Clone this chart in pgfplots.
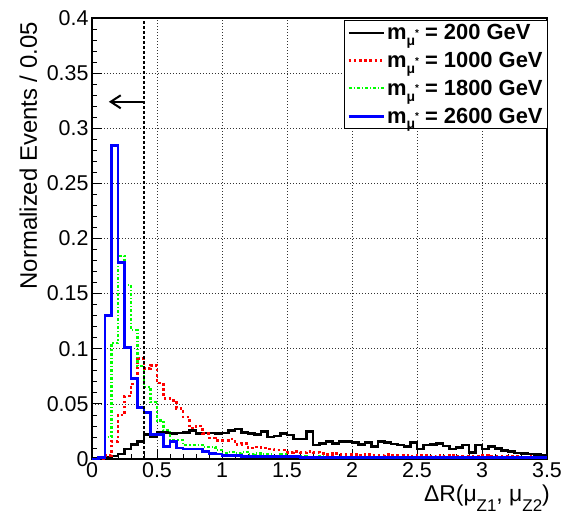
\documentclass[border=0pt]{standalone}
\usepackage{fontspec}
\setmainfont{Liberation Sans}
\usepackage{pgfplots}
\pgfplotsset{compat=1.18}
\usetikzlibrary{arrows.meta}
\newcommand{\mstar}{m\raisebox{-0.5ex}{\fontsize{14}{14}\selectfont μ}\raisebox{0.3ex}{\fontsize{10}{10}\selectfont *}}
\begin{document}
\begin{tikzpicture}
\begin{axis}[
  scale only axis, width=455bp, height=441bp,
  xmin=0, xmax=3.5, ymin=0, ymax=0.4,
  xtick={0,0.5,1,1.5,2,2.5,3,3.5},
  ytick={0,0.05,0.1,0.15,0.2,0.25,0.3,0.35,0.4},
  minor tick num=4,
  tick align=inside, xtick pos=left, ytick pos=left,
  major tick length=10bp, minor tick length=5bp,
  grid=major,
  major grid style={black!80, line width=0.7bp, dash pattern=on 1bp off 2bp},
  axis line style={line width=1.2bp},
  every tick/.style={black, line width=0.8bp},
  tick label style={font=\fontsize{21.5}{25}\selectfont},
  /pgf/number format/assume math mode=true,
  /pgf/number format/fixed,
  scaled ticks=false,
  every axis y label/.style={at={([xshift=-55bp,yshift=-4bp]rel axis cs:0,1)}, rotate=90, anchor=base east, inner sep=0pt, font=\fontsize{24}{28}\selectfont},
  every axis x label/.style={at={([xshift=3bp,yshift=-42bp]rel axis cs:1,0)}, anchor=base east, inner sep=0pt, font=\fontsize{23}{26}\selectfont},
  ylabel={Normalized Events / 0.05},
  xlabel={ΔR(μ\raisebox{-10bp}{\fontsize{17}{17}\selectfont Z1}, μ\raisebox{-10bp}{\fontsize{17}{17}\selectfont Z2})},
  legend style={at={(rel axis cs:1,1)}, anchor=north east, xshift=1bp, yshift=-2bp,
    draw=black, line width=0.8bp, fill=white,
    font=\bfseries\fontsize{22}{25}\selectfont, inner xsep=3bp, inner ysep=2bp, row sep=7bp,
    cells={anchor=west}},
  legend image code/.code={\draw[#1] (0bp,0bp) -- (35bp,0bp);},
  const plot mark left,
]
\addplot[black, line width=2.4bp] coordinates {
(0.00,0.0005)(0.05,0.0015)(0.10,0.002)(0.15,0.0025)(0.20,0.0045)(0.25,0.0088)(0.30,0.013)(0.35,0.0157)
(0.40,0.0224)(0.45,0.0205)(0.50,0.0245)(0.55,0.0242)(0.60,0.023)(0.65,0.0235)(0.70,0.024)(0.75,0.0257)
(0.80,0.023)(0.85,0.0238)(0.90,0.0238)(0.95,0.023)(1.00,0.0235)(1.05,0.0257)(1.10,0.027)(1.15,0.024)
(1.20,0.023)(1.25,0.0224)(1.30,0.0248)(1.35,0.0197)(1.40,0.021)(1.45,0.023)(1.50,0.022)(1.55,0.018)
(1.60,0.018)(1.65,0.0248)(1.70,0.0127)(1.75,0.0142)(1.80,0.016)(1.85,0.0142)(1.90,0.016)(1.95,0.0157)
(2.00,0.0148)(2.05,0.0133)(2.10,0.0148)(2.15,0.0112)(2.20,0.016)(2.25,0.0148)(2.30,0.0136)(2.35,0.0127)
(2.40,0.0112)(2.45,0.0148)(2.50,0.0091)(2.55,0.0127)(2.60,0.0133)(2.65,0.0139)(2.70,0.012)(2.75,0.009)
(2.80,0.0103)(2.85,0.0127)(2.90,0.006)(2.95,0.0127)(3.00,0.009)(3.05,0.0112)(3.10,0.0097)(3.15,0.0076)
(3.20,0.0067)(3.25,0.0057)(3.30,0.0051)(3.35,0.0045)(3.40,0.0042)(3.45,0.0030)(3.50,0.0030)};
\addlegendentry{\mstar\ = 200 GeV}
\addplot[red, line width=2.6bp, dash pattern=on 2.6bp off 2.6bp] coordinates {
(0.00,0)(0.05,0)(0.10,0.003)(0.15,0.016)(0.20,0.040)(0.25,0.057)(0.30,0.068)(0.35,0.091)
(0.40,0.082)(0.45,0.085)(0.50,0.069)(0.55,0.055)(0.60,0.053)(0.65,0.046)(0.70,0.038)(0.75,0.028)
(0.80,0.030)(0.85,0.023)(0.90,0.019)(0.95,0.017)(1.00,0.017)(1.05,0.018)(1.10,0.013)(1.15,0.014)
(1.20,0.010)(1.25,0.011)(1.30,0.010)(1.35,0.009)(1.40,0.008)(1.45,0.008)(1.50,0.006)(1.55,0.007)
(1.60,0.006)(1.65,0.007)(1.70,0.006)(1.75,0.005)(1.80,0.004)(1.85,0.005)(1.90,0.004)(1.95,0.004)
(2.00,0.004)(2.05,0.003)(2.10,0.004)(2.15,0.003)(2.20,0.003)(2.25,0.004)(2.30,0.003)(2.35,0.003)
(2.40,0.003)(2.45,0.002)(2.50,0.003)(2.55,0.003)(2.60,0.002)(2.65,0.003)(2.70,0.002)(2.75,0.003)
(2.80,0.002)(2.85,0.002)(2.90,0.002)(2.95,0.002)(3.00,0.003)(3.05,0.002)(3.10,0.002)(3.15,0.002)
(3.20,0.002)(3.25,0.002)(3.30,0.001)(3.35,0.002)(3.40,0.001)(3.45,0.001)(3.50,0.001)};
\addlegendentry{\mstar\ = 1000 GeV}
\addplot[green, line width=2.2bp, dash pattern=on 3bp off 2bp on 1.2bp off 2bp] coordinates {
(0.00,0)(0.05,0.002)(0.10,0.020)(0.15,0.105)(0.20,0.184)(0.25,0.158)(0.30,0.117)(0.35,0.084)
(0.40,0.065)(0.45,0.052)(0.50,0.035)(0.55,0.026)(0.60,0.017)(0.65,0.017)(0.70,0.013)(0.75,0.013)
(0.80,0.013)(0.85,0.011)(0.90,0.011)(0.95,0.008)(1.00,0.005)(1.05,0.006)(1.10,0.005)(1.15,0.006)
(1.20,0.004)(1.25,0.005)(1.30,0.004)(1.35,0.004)(1.40,0.003)(1.45,0.004)(1.50,0.003)(1.55,0.003)
(1.60,0.003)(1.65,0.002)(1.70,0.002)(1.75,0.003)(1.80,0.002)(1.85,0.002)(1.90,0.002)(1.95,0.001)
(2.00,0.002)(2.05,0.001)(2.10,0.002)(2.15,0.001)(2.20,0.001)(2.25,0.002)(2.30,0.001)(2.35,0.001)
(2.40,0.001)(2.45,0.001)(2.50,0.001)(2.55,0.001)(2.60,0.001)(2.65,0.001)(2.70,0.001)(2.75,0.001)
(2.80,0.001)(2.85,0.001)(2.90,0.001)(2.95,0.001)(3.00,0.001)(3.05,0.001)(3.10,0.001)(3.15,0.001)
(3.20,0.001)(3.25,0.001)(3.30,0.001)(3.35,0.001)(3.40,0.001)(3.45,0.001)(3.50,0.001)};
\addlegendentry{\mstar\ = 1800 GeV}
\addplot[blue, line width=2.8bp] coordinates {
(0.00,0)(0.05,0.001)(0.10,0.130)(0.15,0.284)(0.20,0.178)(0.25,0.101)(0.30,0.073)(0.35,0.047)
(0.40,0.042)(0.45,0.022)(0.50,0.022)(0.55,0.011)(0.60,0.016)(0.65,0.010)(0.70,0.009)(0.75,0.009)
(0.80,0.009)(0.85,0.007)(0.90,0.005)(0.95,0.0045)(1.00,0.003)(1.05,0.003)(1.10,0.003)(1.15,0.002)
(1.20,0.002)(1.25,0.002)(1.30,0.002)(1.35,0.002)(1.40,0.002)(1.45,0.002)(1.50,0.002)(1.55,0.002)
(1.60,0.001)(1.65,0.001)(1.70,0.001)(1.75,0.001)(1.80,0.001)(1.85,0.001)(1.90,0.001)(1.95,0.001)
(2.00,0.001)(2.05,0.001)(2.10,0.001)(2.15,0.001)(2.20,0.001)(2.25,0.001)(2.30,0.001)(2.35,0.001)
(2.40,0.001)(2.45,0.001)(2.50,0.001)(2.55,0.001)(2.60,0.001)(2.65,0.001)(2.70,0.001)(2.75,0.001)
(2.80,0.001)(2.85,0.001)(2.90,0.001)(2.95,0.001)(3.00,0.001)(3.05,0.001)(3.10,0.001)(3.15,0.001)
(3.20,0.001)(3.25,0.001)(3.30,0.001)(3.35,0.001)(3.40,0.001)(3.45,0.001)(3.50,0.001)};
\addlegendentry{\mstar\ = 2600 GeV}
\addplot[black, line width=2.8bp, dash pattern=on 2.6bp off 2.4bp, sharp plot, forget plot] coordinates {(0.4,0) (0.4,0.4)};
\addplot[black, line width=2bp, sharp plot, forget plot, -{Straight Barb[length=10bp, width=13bp]}] coordinates {(0.39,0.324) (0.13,0.324)};
\end{axis}
\pgfresetboundingbox
\path[use as bounding box] ([xshift=-92bp,yshift=-58bp]current axis.south west) rectangle ([xshift=25bp,yshift=18bp]current axis.north east);
\end{tikzpicture}
\end{document}
